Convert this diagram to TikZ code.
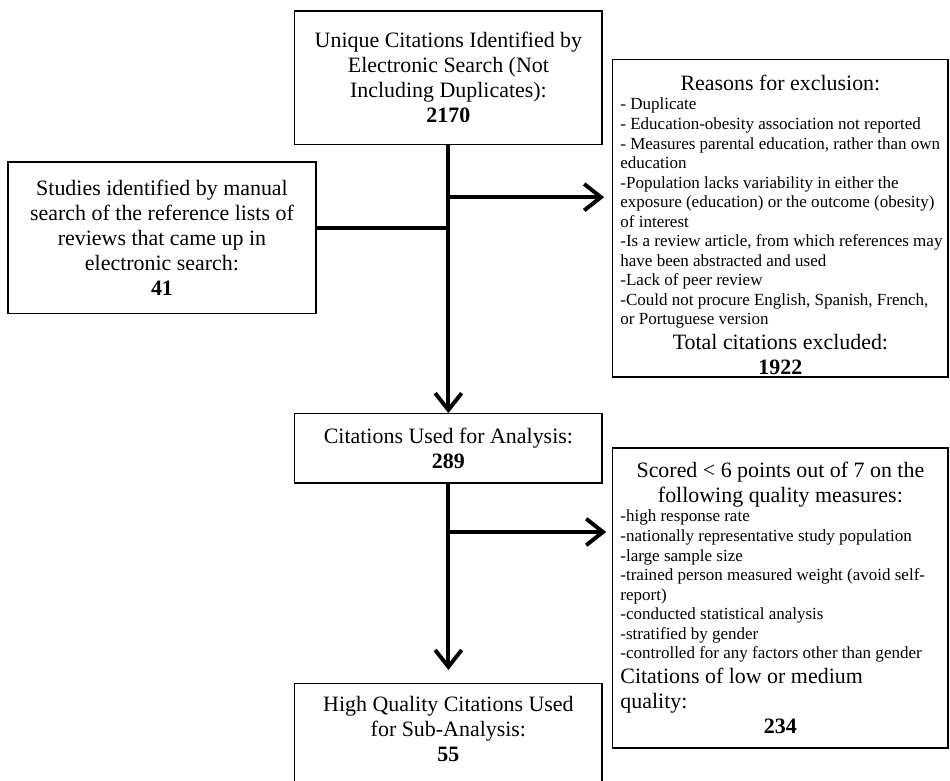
\documentclass[tikz,border=0pt]{standalone}
\usepackage{fontspec}
\setmainfont{Liberation Serif}
\usetikzlibrary{arrows.meta,calc}
\setlength{\parindent}{0pt}
\newcommand{\bigtxt}{\fontsize{15.6pt}{17.8pt}\selectfont}
\newcommand{\smalltxt}{\fontsize{12.1pt}{13.9pt}\selectfont\leftskip=0.1cm\relax}

\begin{document}
\begin{tikzpicture}[font=\bigtxt, every node/.style={align=center},
    box/.style={draw, line width=0.9pt, fill=white, inner sep=0.1cm},
    listbox/.style={box, text width=8.2cm, inner xsep=0.09cm, align=flush left},
    flow/.style={line width=2.8pt},
    tip/.style={flow, -{Straight Barb[length=0.42cm, width=0.66cm]}}]
  \useasboundingbox (0,0) rectangle (23.75,-19.525);
  \node[box, minimum width=7.68cm, minimum height=3.33cm] (srch) at (11.21,-1.94)
    {Unique Citations Identified by\\Electronic Search (Not\\Including Duplicates):\\\textbf{2170}};
  \node[box, minimum width=7.7cm, minimum height=3.78cm] (manual) at (4.05,-5.94)
    {Studies identified by manual\\search of the reference lists of\\reviews that came up in\\electronic search:\\\textbf{41}};
  \node[listbox, minimum height=7.93cm, inner ysep=0.03cm, text height=0.72cm] (excl) at (19.51,-5.46)
    {{\centering Reasons for exclusion:\par}
     {\smalltxt - Duplicate\\
      - Education-obesity association not reported\\
      - Measures parental education, rather than own\\
      education\\
      -Population lacks variability in either the\\
      exposure (education) or the outcome (obesity)\\
      of interest\\
      -Is a review article, from which references may\\
      have been abstracted and used\\
      -Lack of peer review\\
      -Could not procure English, Spanish, French,\\
      or Portuguese version\par}
     {\centering Total citations excluded:\\\textbf{1922}\par}};
  \node[box, minimum width=7.68cm, minimum height=1.73cm] (used) at (11.21,-11.21)
    {Citations Used for Analysis:\\\textbf{289}};
  \node[listbox, minimum height=7.5cm] (lowq) at (19.51,-14.95)
    {{\centering Scored < 6 points out of 7 on the\\following quality measures:\par}
     {\smalltxt -high response rate\\
      -nationally representative study population\\
      -large sample size\\
      -trained person measured weight (avoid self-\\
      report)\\
      -conducted statistical analysis\\
      -stratified by gender\\
      -controlled for any factors other than gender\par}
     {\leftskip=0.1cm Citations of low or medium\\quality:\par}
     {\centering\textbf{234}\par}};
  \node[box, minimum width=7.68cm, inner ysep=0.3cm, text depth=2.5cm, anchor=north] (sub) at (11.21,-17.08)
    {High Quality Citations Used\\for Sub-Analysis:\\\textbf{55}};
  \coordinate (jx) at (11.21,-4.93);
  \coordinate (jm) at (11.21,-5.7);
  \coordinate (jq) at (11.21,-13.3);
  \draw[tip] (srch) -- (used);
  \draw[flow] (manual.east |- jm) -- (jm);
  \draw[tip, shorten >=0.2cm] (jx) -- (excl.west |- jx);
  \draw[tip, shorten >=0.33cm] (used) -- (sub);
  \draw[tip, shorten >=0.15cm] (jq) -- (lowq.west |- jq);
\end{tikzpicture}
\end{document}
